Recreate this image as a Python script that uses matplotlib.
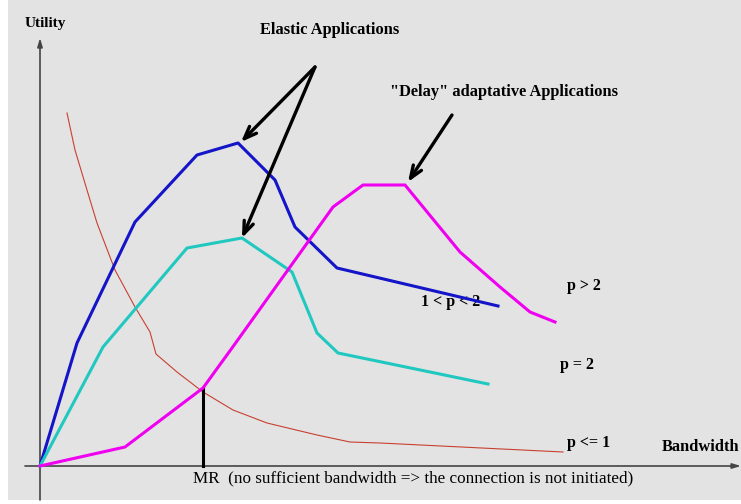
import matplotlib.pyplot as plt
from matplotlib.patches import Rectangle

# utility curves, x = bandwidth, y = utility (origin at axes crossing)
blue_x = [0, 37, 95, 157, 198, 235, 255, 297, 458]
blue_y = [0, 123, 244, 311, 323, 286, 239, 198, 160]

cyan_x = [0, 63, 147, 202, 252, 277, 298, 448]
cyan_y = [0, 119, 218, 228, 194, 133, 113, 82]

magenta_x = [0, 85, 163, 192, 293, 323, 365, 420, 460, 490, 515]
magenta_y = [0, 19, 78, 118, 259, 281, 281, 214, 179, 154, 144]

red_x = [27, 35, 47, 57, 75, 95, 110, 116, 137, 163, 193, 227, 277, 310, 340, 523]
red_y = [353, 316, 276, 243, 196, 159, 134, 112, 94, 74, 56, 43, 31, 24, 23, 14]

mr_x = 163
mr_y = 78

fig = plt.figure(figsize=(7.41, 5.04), dpi=100)
fig.patch.set_facecolor('white')
fig.add_artist(Rectangle((8 / 741, 4 / 504), 1, 1, transform=fig.transFigure,
                         facecolor='#e3e3e3', edgecolor='none', zorder=0))
ax = fig.add_axes([0, 0, 1, 1])
ax.set_facecolor('none')
ax.set_xlim(-40, 701)
ax.set_ylim(-38, 466)
ax.set_axis_off()

# axes arrows
ax.annotate('', xy=(0, 428), xytext=(0, -34),
            arrowprops=dict(arrowstyle='-|>,head_length=0.5,head_width=0.15',
                            color='#444444', lw=1.2, shrinkA=0, shrinkB=0))
ax.annotate('', xy=(701, 0), xytext=(-15, 0),
            arrowprops=dict(arrowstyle='-|>,head_length=0.5,head_width=0.15',
                            color='#444444', lw=1.2, shrinkA=0, shrinkB=0))

ax.plot(red_x, red_y, color='#c84030', lw=0.8, zorder=3)
ax.plot(blue_x, blue_y, color='#1414c8', lw=2.2, zorder=4)
ax.plot(cyan_x, cyan_y, color='#20c8c0', lw=2.2, zorder=4)
ax.plot(magenta_x, magenta_y, color='#f000f0', lw=2.2, zorder=5)
ax.plot([mr_x, mr_x], [0, mr_y], color='black', lw=2.2, zorder=4)

arrow = dict(arrowstyle='->,head_length=0.9,head_width=0.35', color='black',
             lw=2.4, shrinkA=0, shrinkB=0)
ax.annotate('', xy=(201, 324), xytext=(275, 399), arrowprops=arrow, zorder=6)
ax.annotate('', xy=(202, 228), xytext=(275, 399), arrowprops=arrow, zorder=6)
ax.annotate('', xy=(368, 284), xytext=(412, 351), arrowprops=arrow, zorder=6)

serif = 'Liberation Serif'
ax.text(-15, 442, 'Utility', family=serif, weight='bold', fontsize=11, va='center')
ax.text(220, 436, 'Elastic Applications', family=serif, weight='bold', fontsize=11.8, va='center')
ax.text(350, 374, '"Delay" adaptative Applications', family=serif, weight='bold',
        fontsize=11.8, va='center')
ax.text(527, 180, 'p > 2', family=serif, weight='bold', fontsize=11.5, va='center')
ax.text(381, 164, '1 < p < 2', family=serif, weight='bold', fontsize=11.5, va='center', zorder=3)
ax.text(520, 101, 'p = 2', family=serif, weight='bold', fontsize=11.5, va='center')
ax.text(527, 23, 'p <= 1', family=serif, weight='bold', fontsize=11.5, va='center')
ax.text(622, 19, 'Bandwidth', family=serif, weight='bold', fontsize=11.8, va='center')
ax.text(153, -12, 'MR  (no sufficient bandwidth => the connection is not initiated)',
        family=serif, fontsize=12.3, va='center')

fig.savefig('out.png', dpi=100)
